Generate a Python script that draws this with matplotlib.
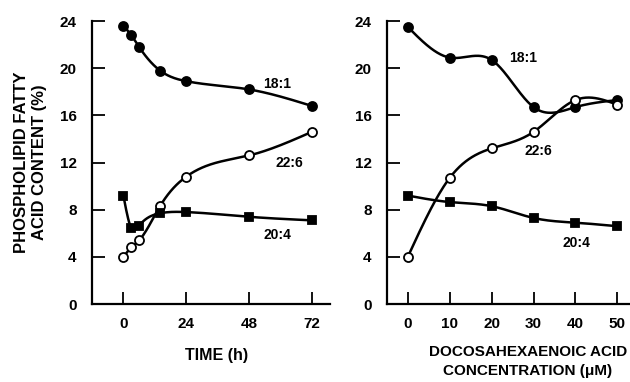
import numpy as np
import matplotlib
matplotlib.use('Agg')
import matplotlib.pyplot as plt

plt.rcParams['font.family'] = ['Liberation Sans', 'DejaVu Sans']

# Left panel: time course (h)
time_h = [0, 3, 6, 14, 24, 48, 72]
time_181 = [23.6, 22.8, 21.8, 19.8, 18.9, 18.2, 16.8]
time_226 = [4.0, 4.8, 5.4, 8.3, 10.8, 12.6, 14.6]
time_204 = [9.2, 6.45, 6.65, 7.7, 7.8, 7.4, 7.1]

# Right panel: DHA concentration (uM)
conc_um = [0, 10, 20, 30, 40, 50]
conc_181 = [23.5, 20.9, 20.7, 16.7, 16.7, 17.3]
conc_226 = [4.0, 10.7, 13.2, 14.6, 17.3, 16.9]
conc_204 = [9.2, 8.65, 8.3, 7.3, 6.9, 6.6]

y_ticks = [0, 4, 8, 12, 16, 20, 24]


def smooth(x, y, n=200):
    """natural cubic spline through the points"""
    x = np.asarray(x, float)
    y = np.asarray(y, float)
    k = len(x)
    h = np.diff(x)
    A = np.zeros((k, k))
    b = np.zeros(k)
    A[0, 0] = A[-1, -1] = 1
    for i in range(1, k - 1):
        A[i, i - 1] = h[i - 1]
        A[i, i] = 2 * (h[i - 1] + h[i])
        A[i, i + 1] = h[i]
        b[i] = 6 * ((y[i + 1] - y[i]) / h[i] - (y[i] - y[i - 1]) / h[i - 1])
    m = np.linalg.solve(A, b)
    xs = np.linspace(x[0], x[-1], n)
    idx = np.clip(np.searchsorted(x, xs) - 1, 0, k - 2)
    x0, x1 = x[idx], x[idx + 1]
    hh = x1 - x0
    t0 = x1 - xs
    t1 = xs - x0
    ys = (m[idx] * t0 ** 3 / (6 * hh) + m[idx + 1] * t1 ** 3 / (6 * hh)
          + (y[idx] / hh - m[idx] * hh / 6) * t0
          + (y[idx + 1] / hh - m[idx + 1] * hh / 6) * t1)
    return xs, ys


def draw(ax, x, y, marker, face):
    xs, ys = smooth(x, y)
    ax.plot(xs, ys, color='k', lw=1.8, zorder=2)
    ax.plot(x, y, linestyle='none', marker=marker, ms=6.5 if marker == 'o' else 6,
            mfc=face, mec='k', mew=1.3, zorder=3)


def style(ax, xticks, xlim):
    ax.set_ylim(0, 24)
    ax.set_xlim(*xlim)
    ax.set_yticks(y_ticks)
    ax.set_xticks(xticks)
    for s in ['top', 'right']:
        ax.spines[s].set_visible(False)
    for s in ['left', 'bottom']:
        ax.spines[s].set_linewidth(1.6)
    ax.tick_params(direction='in', length=9, width=1.3, labelsize=11, pad=9)
    ax.tick_params(axis='y', pad=11)
    for lab in ax.get_xticklabels() + ax.get_yticklabels():
        lab.set_fontweight('bold')


lbl = dict(ha='center', va='center', fontsize=10, fontweight='bold')

fig = plt.figure(figsize=(6.3, 3.82), dpi=100)
ax1 = fig.add_axes([0.146, 0.204, 0.378, 0.741])
ax2 = fig.add_axes([0.614, 0.204, 0.386, 0.741])

draw(ax1, time_h, time_181, 'o', 'k')
draw(ax1, time_h, time_226, 'o', 'white')
draw(ax1, time_h, time_204, 's', 'k')
style(ax1, [0, 24, 48, 72], (-12, 79))
ax1.text(58.7, 18.7, '18:1', **lbl)
ax1.text(63.6, 12.0, '22:6', **lbl)
ax1.text(58.7, 5.85, '20:4', **lbl)
ax1.set_xlabel('TIME (h)', fontsize=11.5, fontweight='bold')
ax1.xaxis.set_label_coords(0.525, -0.155)
ax1.set_ylabel('PHOSPHOLIPID FATTY\nACID CONTENT (%)', fontsize=12,
               fontweight='bold', linespacing=1.2)
ax1.yaxis.set_label_coords(-0.19, 0.5)

draw(ax2, conc_um, conc_181, 'o', 'k')
draw(ax2, conc_um, conc_226, 'o', 'white')
draw(ax2, conc_um, conc_204, 's', 'k')
style(ax2, [0, 10, 20, 30, 40, 50], (-5, 53))
ax2.text(27.4, 20.9, '18:1', **lbl)
ax2.text(31.2, 13.0, '22:6', **lbl)
ax2.text(40.2, 5.2, '20:4', **lbl)
ax2.set_xlabel('DOCOSAHEXAENOIC ACID\nCONCENTRATION (\u03bcM)', fontsize=11,
               fontweight='bold', linespacing=1.4)
ax2.xaxis.set_label_coords(0.58, -0.145)

fig.savefig('out.png', dpi=100)
